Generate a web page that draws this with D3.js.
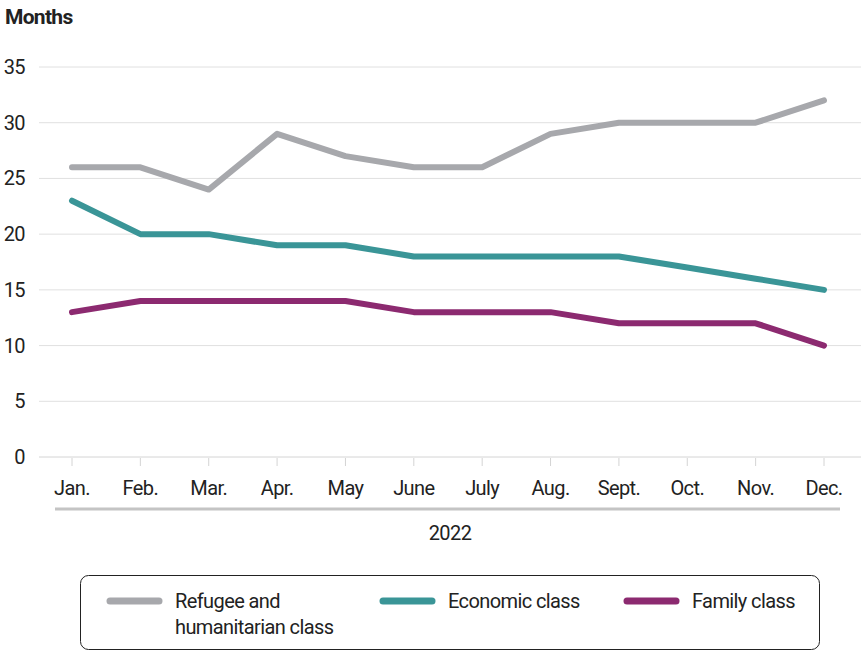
<!DOCTYPE html>
<html>
<head>
<meta charset="utf-8">
<script src="https://cdn.jsdelivr.net/npm/d3@7"></script>
<style>
  body { margin: 0; background: #fff; }
  text { font-family: Roboto, "Liberation Sans", sans-serif; fill: #222; letter-spacing: -0.6px; }
</style>
</head>
<body>
<svg id="chart"></svg>
<script>
var months = ["Jan.", "Feb.", "Mar.", "Apr.", "May", "June", "July", "Aug.", "Sept.", "Oct.", "Nov.", "Dec."];
var refugee = [26, 26, 24, 29, 27, 26, 26, 29, 30, 30, 30, 32];
var economic = [23, 20, 20, 19, 19, 18, 18, 18, 18, 17, 16, 15];
var family = [13, 14, 14, 14, 14, 13, 13, 13, 12, 12, 12, 10];
var yTicks = [0, 5, 10, 15, 20, 25, 30, 35];

var series = [
  { name: ["Refugee and", "humanitarian class"], values: refugee, color: "#a7a8ac" },
  { name: ["Economic class"], values: economic, color: "#3a9597" },
  { name: ["Family class"], values: family, color: "#8c2a70" }
];

var width = 861, height = 652;

var svg = d3.select("#chart")
    .attr("width", width)
    .attr("height", height);

var x = d3.scalePoint()
    .domain(months)
    .range([72, 824]);

var y = d3.scaleLinear()
    .domain([0, 35])
    .range([457, 67]);

// title
svg.append("text")
    .attr("x", 5)
    .attr("y", 24)
    .style("font-size", "21px")
    .style("font-weight", "bold")
    .style("letter-spacing", "-0.7px")
    .text("Months");

// gridlines + y labels
var grid = svg.append("g");
grid.selectAll("line")
    .data(yTicks)
  .enter().append("line")
    .attr("x1", 39)
    .attr("x2", width)
    .attr("y1", function(d) { return y(d); })
    .attr("y2", function(d) { return y(d); })
    .attr("stroke", function(d) { return d === 0 ? "#d4d4d4" : "#e0e0e0"; })
    .attr("stroke-width", 1);

grid.selectAll("text")
    .data(yTicks)
  .enter().append("text")
    .attr("x", 25)
    .attr("y", function(d) { return y(d); })
    .attr("dy", "0.35em")
    .attr("text-anchor", "end")
    .style("font-size", "20px")
    .text(function(d) { return d; });

// x ticks + labels
var xa = svg.append("g");
xa.selectAll("line")
    .data(months)
  .enter().append("line")
    .attr("x1", function(d) { return x(d); })
    .attr("x2", function(d) { return x(d); })
    .attr("y1", 458)
    .attr("y2", 466)
    .attr("stroke", "#d4d4d4");

xa.selectAll("text")
    .data(months)
  .enter().append("text")
    .attr("x", function(d) { return x(d); })
    .attr("y", 495)
    .attr("text-anchor", "middle")
    .style("font-size", "20px")
    .text(function(d) { return d; });

svg.append("line")
    .attr("x1", 55)
    .attr("x2", 840)
    .attr("y1", 509)
    .attr("y2", 509)
    .attr("stroke", "#c4c4c4")
    .attr("stroke-width", 3);

svg.append("text")
    .attr("x", 450)
    .attr("y", 540)
    .attr("text-anchor", "middle")
    .style("font-size", "20px")
    .text("2022");

// lines
var line = d3.line()
    .x(function(d, i) { return x(months[i]); })
    .y(function(d) { return y(d); });

svg.append("g").selectAll("path")
    .data(series)
  .enter().append("path")
    .attr("d", function(d) { return line(d.values); })
    .attr("fill", "none")
    .attr("stroke", function(d) { return d.color; })
    .attr("stroke-width", 6)
    .attr("stroke-linecap", "round")
    .attr("stroke-linejoin", "round");

// legend
svg.append("rect")
    .attr("x", 80.5)
    .attr("y", 575.5)
    .attr("width", 739)
    .attr("height", 74)
    .attr("rx", 8)
    .attr("fill", "none")
    .attr("stroke", "#222")
    .attr("stroke-width", 1);

var legendX = [110, 383, 627];
var legend = svg.append("g").selectAll("g")
    .data(series)
  .enter().append("g")
    .attr("transform", function(d, i) { return "translate(" + legendX[i] + ",601)"; });

legend.append("line")
    .attr("x1", 0)
    .attr("x2", 49)
    .attr("stroke", function(d) { return d.color; })
    .attr("stroke-width", 7)
    .attr("stroke-linecap", "round");

legend.append("text")
    .attr("x", 65)
    .style("font-size", "20px")
    .selectAll("tspan")
    .data(function(d) { return d.name; })
  .enter().append("tspan")
    .attr("x", 65)
    .attr("y", function(d, i) { return i * 26; })
    .attr("dy", "0.35em")
    .text(function(d) { return d; });
</script>
</body>
</html>
